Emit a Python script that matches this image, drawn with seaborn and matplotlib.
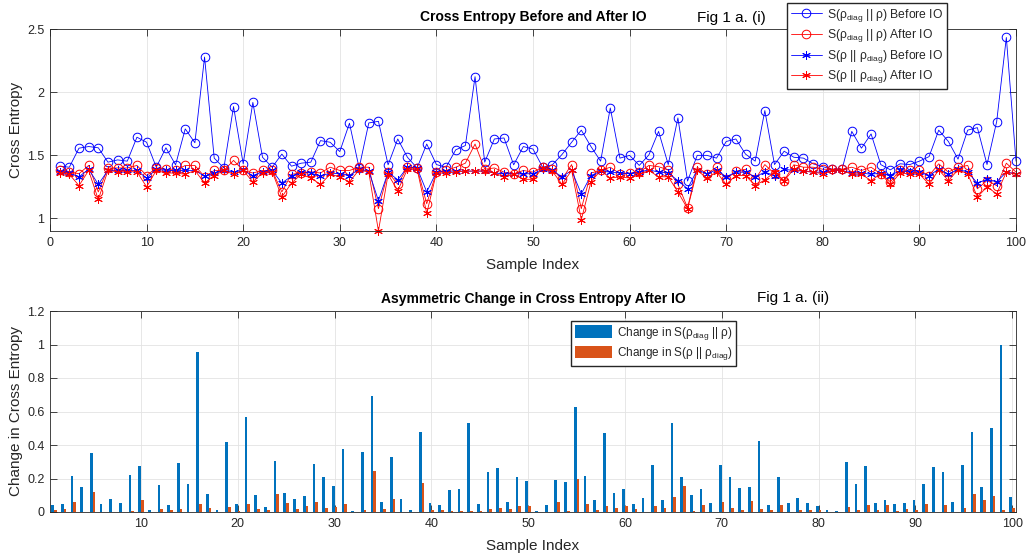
import numpy as np
import pandas as pd
import matplotlib
matplotlib.use("Agg")
import matplotlib.pyplot as plt
import seaborn as sns
from matplotlib.ticker import FormatStrFormatter

# ---------------- data ----------------
sample_index = list(range(1, 101))

s_diag_rho_before = [
    1.414, 1.406, 1.557, 1.570, 1.560, 1.446, 1.464, 1.454, 1.644, 1.604,
    1.406, 1.560, 1.425, 1.710, 1.600, 2.280, 1.478, 1.400, 1.887, 1.433,
    1.920, 1.485, 1.406, 1.510, 1.414, 1.438, 1.446, 1.617, 1.604, 1.530,
    1.755, 1.400, 1.757, 1.770, 1.425, 1.630, 1.485, 1.400, 1.590, 1.427,
    1.406, 1.544, 1.578, 2.124, 1.446, 1.630, 1.638, 1.425, 1.570, 1.550,
    1.406, 1.425, 1.507, 1.604, 1.700, 1.570, 1.454, 1.876, 1.478, 1.500,
    1.420, 1.504, 1.690, 1.427, 1.797, 1.296, 1.500, 1.500, 1.478, 1.610,
    1.630, 1.510, 1.454, 1.855, 1.427, 1.533, 1.485, 1.478, 1.433, 1.410,
    1.390, 1.390, 1.690, 1.557, 1.670, 1.427, 1.385, 1.433, 1.427, 1.454,
    1.490, 1.700, 1.610, 1.470, 1.700, 1.720, 1.427, 1.768, 2.435, 1.454]

s_diag_rho_after = [
    1.380, 1.370, 1.354, 1.420, 1.210, 1.400, 1.400, 1.400, 1.420, 1.340,
    1.400, 1.390, 1.380, 1.420, 1.420, 1.330, 1.380, 1.380, 1.460, 1.380,
    1.360, 1.380, 1.380, 1.210, 1.350, 1.360, 1.370, 1.360, 1.406, 1.380,
    1.380, 1.406, 1.406, 1.077, 1.367, 1.270, 1.406, 1.400, 1.116, 1.367,
    1.380, 1.406, 1.438, 1.590, 1.390, 1.400, 1.367, 1.354, 1.380, 1.367,
    1.406, 1.390, 1.310, 1.427, 1.077, 1.360, 1.380, 1.406, 1.354, 1.360,
    1.367, 1.420, 1.410, 1.385, 1.270, 1.084, 1.406, 1.354, 1.406, 1.310,
    1.375, 1.390, 1.310, 1.427, 1.354, 1.300, 1.425, 1.406, 1.406, 1.390,
    1.390, 1.390, 1.406, 1.380, 1.406, 1.354, 1.290, 1.385, 1.380, 1.380,
    1.340, 1.433, 1.367, 1.406, 1.420, 1.235, 1.300, 1.260, 1.438, 1.367]

s_rho_diag_before = [
    1.370, 1.360, 1.330, 1.390, 1.270, 1.380, 1.380, 1.380, 1.380, 1.320,
    1.390, 1.380, 1.380, 1.380, 1.380, 1.335, 1.360, 1.380, 1.370, 1.380,
    1.340, 1.370, 1.380, 1.280, 1.335, 1.367, 1.360, 1.335, 1.360, 1.354,
    1.340, 1.390, 1.375, 1.140, 1.367, 1.306, 1.406, 1.400, 1.210, 1.367,
    1.375, 1.375, 1.375, 1.375, 1.375, 1.360, 1.354, 1.354, 1.354, 1.354,
    1.390, 1.380, 1.330, 1.380, 1.195, 1.340, 1.375, 1.367, 1.360, 1.354,
    1.367, 1.385, 1.367, 1.360, 1.300, 1.235, 1.385, 1.354, 1.385, 1.330,
    1.367, 1.367, 1.330, 1.367, 1.340, 1.390, 1.380, 1.375, 1.367, 1.367,
    1.380, 1.380, 1.360, 1.360, 1.350, 1.360, 1.340, 1.380, 1.367, 1.367,
    1.340, 1.390, 1.350, 1.390, 1.367, 1.280, 1.310, 1.290, 1.367, 1.354]

s_rho_diag_after = [
    1.360, 1.350, 1.260, 1.380, 1.150, 1.380, 1.370, 1.370, 1.370, 1.250,
    1.380, 1.360, 1.360, 1.350, 1.380, 1.280, 1.340, 1.380, 1.350, 1.380,
    1.290, 1.360, 1.370, 1.170, 1.280, 1.350, 1.320, 1.270, 1.350, 1.330,
    1.290, 1.385, 1.367, 0.900, 1.350, 1.220, 1.390, 1.390, 1.040, 1.360,
    1.360, 1.367, 1.375, 1.375, 1.375, 1.360, 1.330, 1.350, 1.310, 1.310,
    1.400, 1.375, 1.270, 1.380, 0.990, 1.290, 1.380, 1.320, 1.330, 1.320,
    1.350, 1.380, 1.330, 1.330, 1.210, 1.077, 1.380, 1.320, 1.367, 1.270,
    1.340, 1.340, 1.260, 1.306, 1.367, 1.300, 1.390, 1.375, 1.367, 1.354,
    1.380, 1.380, 1.350, 1.350, 1.300, 1.354, 1.270, 1.360, 1.354, 1.354,
    1.270, 1.385, 1.300, 1.385, 1.354, 1.170, 1.250, 1.195, 1.367, 1.350]

change_diag_rho = [
    0.040, 0.050, 0.214, 0.152, 0.350, 0.050, 0.075, 0.055, 0.222, 0.273,
    0.014, 0.164, 0.040, 0.290, 0.170, 0.954, 0.105, 0.014, 0.420, 0.045,
    0.566, 0.103, 0.030, 0.307, 0.113, 0.075, 0.097, 0.287, 0.208, 0.158,
    0.376, 0.004, 0.356, 0.690, 0.057, 0.327, 0.077, 0.010, 0.477, 0.053,
    0.040, 0.133, 0.140, 0.530, 0.050, 0.240, 0.263, 0.057, 0.210, 0.186,
    0.006, 0.040, 0.190, 0.178, 0.628, 0.214, 0.073, 0.471, 0.115, 0.140,
    0.050, 0.085, 0.283, 0.070, 0.533, 0.208, 0.100, 0.137, 0.055, 0.283,
    0.208, 0.143, 0.149, 0.424, 0.042, 0.206, 0.055, 0.081, 0.051, 0.038,
    0.010, 0.006, 0.297, 0.170, 0.275, 0.053, 0.070, 0.046, 0.051, 0.070,
    0.168, 0.267, 0.240, 0.060, 0.280, 0.475, 0.149, 0.500, 1.000, 0.091]

change_rho_diag = [
    0.010, 0.020, 0.060, 0.000, 0.120, 0.000, 0.000, 0.000, 0.005, 0.070,
    0.000, 0.020, 0.010, 0.015, 0.000, 0.050, 0.025, 0.000, 0.030, 0.005,
    0.050, 0.020, 0.010, 0.110, 0.053, 0.020, 0.034, 0.060, 0.026, 0.032,
    0.048, 0.000, 0.010, 0.245, 0.016, 0.080, 0.000, 0.000, 0.174, 0.010,
    0.014, 0.006, 0.006, 0.006, 0.006, 0.020, 0.026, 0.016, 0.038, 0.034,
    0.000, 0.000, 0.060, 0.008, 0.200, 0.050, 0.010, 0.034, 0.026, 0.036,
    0.018, 0.000, 0.034, 0.026, 0.089, 0.156, 0.006, 0.040, 0.000, 0.060,
    0.026, 0.014, 0.065, 0.020, 0.010, 0.044, 0.000, 0.010, 0.014, 0.014,
    0.000, 0.000, 0.030, 0.014, 0.042, 0.014, 0.044, 0.006, 0.018, 0.010,
    0.050, 0.000, 0.042, 0.000, 0.022, 0.107, 0.070, 0.093, 0.010, 0.026]

line_labels = [
    r"S(ρ$_{\mathregular{diag}}$ || ρ) Before IO",
    r"S(ρ$_{\mathregular{diag}}$ || ρ) After IO",
    r"S(ρ || ρ$_{\mathregular{diag}}$) Before IO",
    r"S(ρ || ρ$_{\mathregular{diag}}$) After IO",
]
bar_labels = [
    r"Change in S(ρ$_{\mathregular{diag}}$ || ρ)",
    r"Change in S(ρ || ρ$_{\mathregular{diag}}$)",
]
top_xticks = list(range(0, 101, 10))
top_yticks = [1, 1.5, 2, 2.5]
bottom_xticks = list(range(10, 101, 10))
bottom_yticks = [0, 0.2, 0.4, 0.6, 0.8, 1.0, 1.2]

# ---------------- style ----------------
sns.set_theme(style="white")
plt.rcParams["font.family"] = ["Liberation Sans", "DejaVu Sans"]
plt.rcParams["mathtext.fontset"] = "custom"
plt.rcParams["mathtext.rm"] = "Liberation Sans"
plt.rcParams["mathtext.it"] = "Liberation Sans:italic"
plt.rcParams["mathtext.bf"] = "Liberation Sans:bold"

AX_COL = "#262626"
GRID_COL = "#e3e3e3"
W, H = 1029, 556

fig = plt.figure(figsize=(W / 100, H / 100), dpi=100)
fig.patch.set_facecolor("white")

ax1 = fig.add_axes([50 / W, (H - 231) / H, 966 / W, (231 - 29.3) / H])
ax2 = fig.add_axes([50 / W, (H - 512) / H, 966 / W, (512 - 311) / H])

asterisk = (6, 2, 0)
series = [
    (s_diag_rho_before, "blue", "o"),
    (s_diag_rho_after, "red", "o"),
    (s_rho_diag_before, "blue", asterisk),
    (s_rho_diag_after, "red", asterisk),
]
for (vals, col, mk), lab in zip(series, line_labels):
    sns.lineplot(x=sample_index, y=vals, ax=ax1, color=col, linewidth=0.6,
                 marker=mk, markersize=6.2,
                 markerfacecolor="none", markeredgecolor=col,
                 markeredgewidth=0.7, label=lab, clip_on=False)

ax1.set_xlim(0, 100)
ax1.set_ylim(0.9, 2.5)
ax1.set_xticks(top_xticks)
ax1.set_yticks(top_yticks)
ax1.yaxis.set_major_formatter(FormatStrFormatter("%g"))
ax1.set_xlabel("Sample Index", fontsize=11, color=AX_COL, labelpad=7)
ax1.set_ylabel("Cross Entropy", fontsize=11, color=AX_COL, labelpad=3)
ax1.set_title("Cross Entropy Before and After IO", fontsize=10,
              fontweight="bold", pad=6, color="black")
h1, l1 = ax1.get_legend_handles_labels()
if ax1.get_legend() is not None:
    ax1.get_legend().remove()
fig.legend(h1, l1, loc="upper left", bbox_to_anchor=(787 / W, 1 - 3 / H),
           fontsize=8.7, frameon=True, fancybox=False, framealpha=1,
           edgecolor=AX_COL, handlelength=2.6, handletextpad=0.4,
           borderpad=0.3, labelspacing=0.3, borderaxespad=0)
fig.text(697 / W, 1 - 18 / H, "Fig 1 a. (i)", fontsize=11, va="center",
         ha="left", color="black")

# ---------------- bottom ----------------
df = pd.DataFrame({
    "idx": sample_index * 2,
    "val": change_diag_rho + change_rho_diag,
    "series": [bar_labels[0]] * 100 + [bar_labels[1]] * 100,
})
sns.barplot(data=df, x="idx", y="val", hue="series", hue_order=bar_labels,
            palette=["#0072BD", "#D95319"], native_scale=True, width=0.56,
            saturation=1, linewidth=0, errorbar=None, ax=ax2, dodge=True)
ax2.set_xlim(0.6, 100.4)
ax2.set_ylim(0, 1.2)
ax2.set_xticks(bottom_xticks)
ax2.set_yticks(bottom_yticks)
ax2.yaxis.set_major_formatter(FormatStrFormatter("%g"))
ax2.xaxis.set_major_formatter(FormatStrFormatter("%d"))
ax2.set_xlabel("Sample Index", fontsize=11, color=AX_COL, labelpad=7)
ax2.set_ylabel("Change in Cross Entropy", fontsize=11, color=AX_COL, labelpad=3)
ax2.set_title("Asymmetric Change in Cross Entropy After IO", fontsize=10,
              fontweight="bold", pad=6, color="black")
leg = ax2.get_legend()
h2 = list(leg.legend_handles)
l2 = [t.get_text() for t in leg.get_texts()]
leg.remove()
ax2.legend(h2, l2, loc="upper left", bbox_to_anchor=(571 / W, 1 - 321 / H),
           bbox_transform=fig.transFigure, fontsize=8.5, frameon=True,
           fancybox=False, framealpha=1, edgecolor=AX_COL,
           handlelength=3.2, handleheight=1.3, handletextpad=0.4,
           borderpad=0.3, labelspacing=0.3, borderaxespad=0)
fig.text(757 / W, 1 - 298 / H, "Fig 1 a. (ii)", fontsize=11, va="center",
         ha="left", color="black")

for ax in (ax1, ax2):
    ax.set_facecolor("white")
    ax.grid(True, color=GRID_COL, linewidth=0.6)
    ax.set_axisbelow(True)
    for sp in ax.spines.values():
        sp.set_visible(True)
        sp.set_color(AX_COL)
        sp.set_linewidth(0.6)
    ax.tick_params(direction="in", length=5, width=0.6, colors=AX_COL,
                   labelsize=9, top=True, right=True, bottom=True, left=True,
                   labelcolor=AX_COL, pad=4)

fig.savefig("out.png", dpi=100, facecolor="white")
